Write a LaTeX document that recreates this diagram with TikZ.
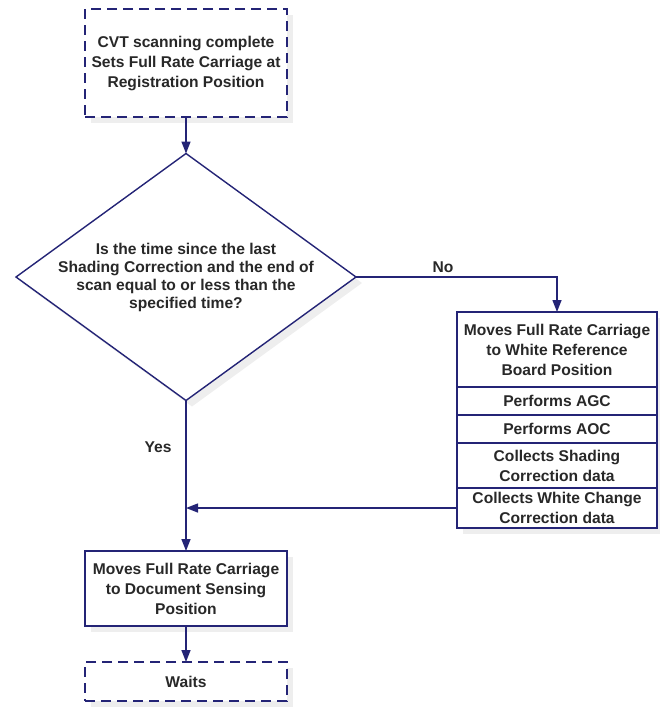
\documentclass[tikz,border=0pt]{standalone}
\usepackage{fontspec}
\setmainfont{Liberation Sans}
\usetikzlibrary{shapes.geometric,arrows.meta,positioning,shadows}

\definecolor{flownavy}{RGB}{36,36,118}
\definecolor{flowtext}{RGB}{40,40,40}

\tikzset{
  flowbox/.style={rectangle, draw=flownavy, line width=1.4pt, fill=white,
    outer sep=0pt, inner sep=2pt, align=center, text=flowtext,
    font=\bfseries\fontsize{15.6}{20}\selectfont,
    drop shadow={shadow xshift=6pt, shadow yshift=-6pt, fill=black!13}},
  dashbox/.style={flowbox, line width=1.9pt, dash pattern=on 10pt off 6pt},
  stackbox/.style={flowbox, minimum width=200pt},
  decision/.style={diamond, draw=flownavy, line width=1.4pt, fill=white,
    outer sep=0pt, inner sep=0pt, minimum width=340pt, minimum height=247pt,
    drop shadow={shadow xshift=6pt, shadow yshift=-6pt, fill=black!13}},
  flowline/.style={draw=flownavy, line width=1.4pt,
    -{Triangle[length=12pt,width=9pt]}},
  flowlabel/.style={text=flowtext, font=\bfseries\fontsize{15.6}{18}\selectfont}
}

\begin{document}
\begin{tikzpicture}[x=1pt, y=-1pt]
    \useasboundingbox (0,0) rectangle (660,713);

    % --- Start ---
    \node[dashbox, minimum width=202pt, minimum height=108pt] (ScanDone) at (186,63)
        {CVT scanning complete\\Sets Full Rate Carriage at\\Registration Position};

    % --- Decision ---
    \node[decision] (TimeCheck) at (186,277) {};
    \node[flowlabel, align=center] (TimeCheckText) at (TimeCheck.center)
        {Is the time since the last\\Shading Correction and the end of\\scan equal to or less than the\\specified time?};

    % --- Shading correction stack ---
    \node[stackbox, minimum height=75pt] (WhiteRef) at (557,349.5)
        {Moves Full Rate Carriage\\to White Reference\\Board Position};
    \node[stackbox, minimum height=28pt, below=0pt of WhiteRef] (DoAGC) {Performs AGC};
    \node[stackbox, minimum height=28pt, below=0pt of DoAGC] (DoAOC) {Performs AOC};
    \node[stackbox, minimum height=45pt, below=0pt of DoAOC] (ShadingData)
        {Collects Shading\\Correction data};
    \node[stackbox, minimum height=40pt, below=0pt of ShadingData] (WhiteChange)
        {Collects White Change\\Correction data};

    % --- Return to document sensing ---
    \node[flowbox, minimum width=202pt, minimum height=75pt] (DocSense) at (186,588.5)
        {Moves Full Rate Carriage\\to Document Sensing\\Position};
    \node[dashbox, minimum width=202pt, minimum height=39pt] (Waits) at (186,681.5) {Waits};

    % --- Connectors ---
    \draw[flowline] (ScanDone) -- (TimeCheck.north);
    \draw[flowline] (TimeCheck.east) -| (WhiteRef.north);
    \draw[flowline] (TimeCheck.south) -- (DocSense.north);
    \coordinate (Merge) at (TimeCheck.south |- WhiteChange.west);
    \draw[flowline] (WhiteChange.west) -- (Merge);
    \draw[flowline] (DocSense) -- (Waits);

    \node[flowlabel] (NoLabel) at (443,267) {No};
    \node[flowlabel] (YesLabel) at (158,447) {Yes};
\end{tikzpicture}
\end{document}
